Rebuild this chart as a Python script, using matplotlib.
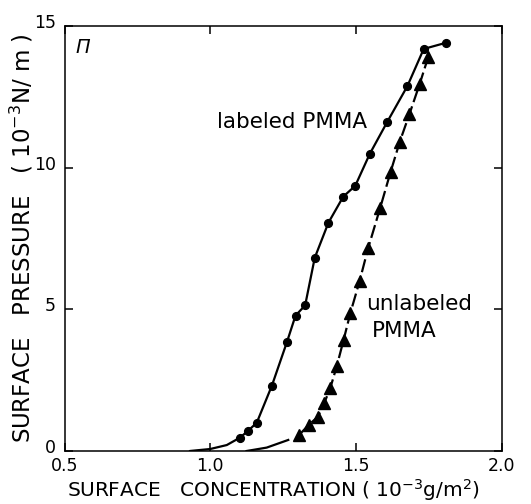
import matplotlib
matplotlib.use("Agg")
import matplotlib.pyplot as plt
import matplotlib.transforms as mtransforms

# labeled PMMA (circles)
lab_x = [1.102, 1.131, 1.160, 1.212, 1.264, 1.293, 1.326, 1.359, 1.406, 1.457,
         1.498, 1.548, 1.607, 1.677, 1.733, 1.810]
lab_y = [0.47, 0.72, 1.00, 2.31, 3.86, 4.78, 5.14, 6.82, 8.06, 8.98,
         9.36, 10.49, 11.60, 12.88, 14.19, 14.41]
# low-pressure tail of the labeled curve
lab_tail_x = [0.93, 1.00, 1.057, 1.102]
lab_tail_y = [0.00, 0.07, 0.21, 0.47]

# unlabeled PMMA (triangles)
unl_x = [1.305, 1.338, 1.370, 1.391, 1.412, 1.435, 1.458, 1.481, 1.513, 1.542,
         1.583, 1.619, 1.651, 1.684, 1.719, 1.748]
unl_y = [0.56, 0.92, 1.21, 1.68, 2.21, 3.01, 3.92, 4.86, 6.00, 7.15,
         8.56, 9.84, 10.92, 11.89, 12.95, 13.89]
unl_tail_x = [1.125, 1.194, 1.268]
unl_tail_y = [0.00, 0.12, 0.39]

xticks = [0.5, 1.0, 1.5, 2.0]
xtick_labels = ["0.5", "1.0", "1.5", "2.0"]
yticks = [0, 5, 10, 15]
ytick_labels = ["0", "5", "10", "15"]

plt.rcParams['font.family'] = ['DejaVu Sans']

fig = plt.figure(figsize=(5.31, 5.04), dpi=100)
ax = fig.add_axes([64.5 / 531, 1 - 451 / 504, (501.5 - 64.5) / 531, (451 - 26) / 504])

lw = 1.6
ax.plot(lab_tail_x, lab_tail_y, color='black', lw=lw, solid_capstyle='round')
ax.plot(lab_x, lab_y, color='black', lw=lw, marker='o', markersize=5.6,
        markeredgecolor='black', markerfacecolor='black')
ax.plot(unl_tail_x, unl_tail_y, color='black', lw=lw)
ax.plot(unl_x, unl_y, color='black', lw=lw, dashes=(6, 2), marker='^',
        markersize=8, markeredgecolor='black', markerfacecolor='black')

ax.set_xlim(0.5, 2.0)
ax.set_ylim(0, 15)
ax.set_xticks(xticks)
ax.set_xticklabels(xtick_labels)
ax.set_yticks(yticks)
ax.set_yticklabels(ytick_labels)
ax.tick_params(direction='in', length=6, width=1.1, top=True, right=True,
               labelsize=12.5, pad=6)
ax.tick_params(axis='x', pad=4)
for s in ax.spines.values():
    s.set_linewidth(1.1)

# y tick labels sit slightly above their ticks in the reference
shift = mtransforms.ScaledTranslation(0, 5 / 100, fig.dpi_scale_trans)
for lbl in ax.get_yticklabels():
    lbl.set_transform(lbl.get_transform() + shift)

ax.text(0.350, 0.773, 'labeled PMMA', transform=ax.transAxes, fontsize=15.5,
        ha='left', va='center')
ax.text(0.690, 0.345, 'unlabeled', transform=ax.transAxes, fontsize=15.5,
        ha='left', va='center')
ax.text(0.703, 0.282, 'PMMA', transform=ax.transAxes, fontsize=15.5,
        ha='left', va='center')
ax.text(0.025, 0.95, 'Π', transform=ax.transAxes, fontsize=14, style='italic',
        ha='left', va='center')

fig.text(22 / 531, 1 - 238 / 504, 'SURFACE   PRESSURE   ( 10$^{-3}$N/ m )',
         rotation=90, ha='center', va='center', fontsize=16.5)
fig.text(67 / 531, 1 - 490 / 504, 'SURFACE   CONCENTRATION ( 10$^{-3}$g/m$^{2}$)',
         ha='left', va='center', fontsize=14.5)

fig.savefig('out.png', dpi=100)
